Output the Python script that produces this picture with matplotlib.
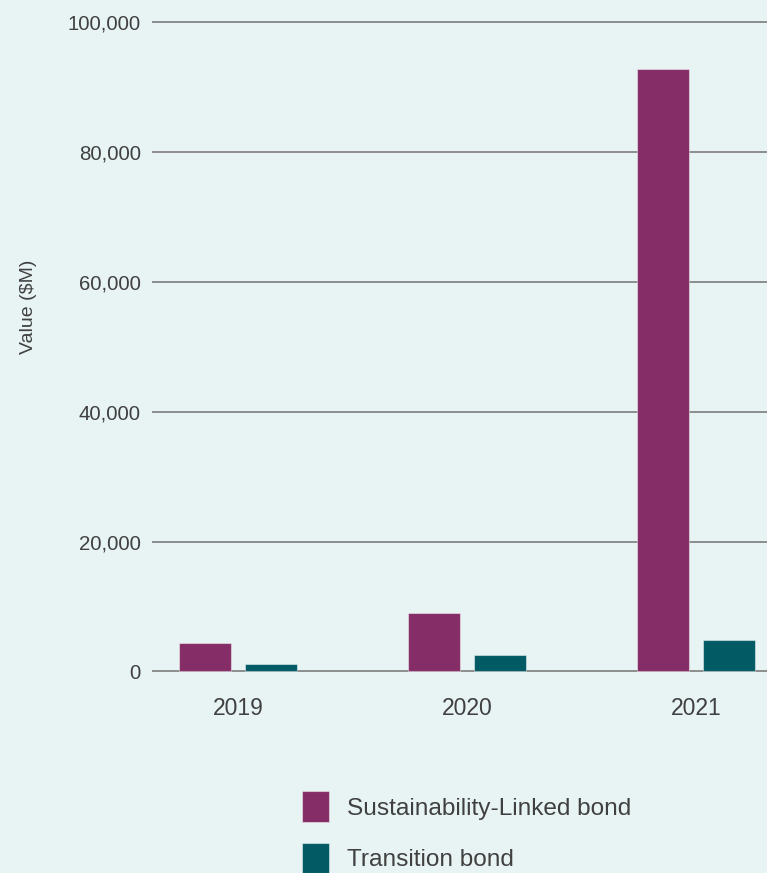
import numpy as np
import matplotlib.pyplot as plt
from matplotlib.ticker import FuncFormatter

years = ["2019", "2020", "2021"]
sustainability_linked = [4350, 8950, 92800]
transition = [1100, 2500, 4800]
series_labels = ["Sustainability-Linked bond", "Transition bond"]
y_ticks = [0, 20000, 40000, 60000, 80000, 100000]

bg = "#e8f4f4"
purple = "#842d67"
teal = "#015a64"
text_col = "#404040"

plt.rcParams["font.family"] = ["Liberation Sans", "DejaVu Sans"]

fig = plt.figure(figsize=(7.67, 8.73), dpi=100, facecolor=bg)
ax = fig.add_axes([0.1982, 0.2234, 0.8018, 0.7663], facecolor=bg)

x = np.arange(len(years))
w = 0.2245
off = 0.1437
b1 = ax.bar(x - off, sustainability_linked, w, color=purple,
            edgecolor=(1, 1, 1, 0.45), linewidth=0.8, zorder=3, label=series_labels[0])
b2 = ax.bar(x + off, transition, w, color=teal,
            edgecolor=(1, 1, 1, 0.45), linewidth=0.8, zorder=3, label=series_labels[1])

ax.set_xlim(-0.3755, 2.31)
ax.set_ylim(-1000, 102000)
ax.set_yticks(y_ticks)
ax.yaxis.set_major_formatter(FuncFormatter(lambda v, p: f"{int(v):,}"))
ax.set_xticks(x)
ax.set_xticklabels(years)
ax.yaxis.grid(True, color="#858585", linewidth=1.3, zorder=0)
ax.set_axisbelow(True)
for s in ax.spines.values():
    s.set_visible(False)
ax.tick_params(axis="y", length=0, pad=8, labelsize=14.7, labelcolor=text_col)
ax.tick_params(axis="x", length=0, pad=14, labelsize=16.5, labelcolor=text_col)

fig.text(0.037, 0.649, "Value ($M)", rotation=90, ha="center", va="center",
         fontsize=14, color=text_col)

fig.legend(handles=[b1, b2], labels=series_labels, loc="upper left",
           bbox_to_anchor=(0.394, 0.0935), frameon=False, fontsize=17.6,
           handlelength=1.1, handleheight=1.55, handletextpad=0.75,
           labelspacing=0.85, labelcolor=text_col, borderaxespad=0, borderpad=0)

fig.savefig("out.png", dpi=100, facecolor=bg)
